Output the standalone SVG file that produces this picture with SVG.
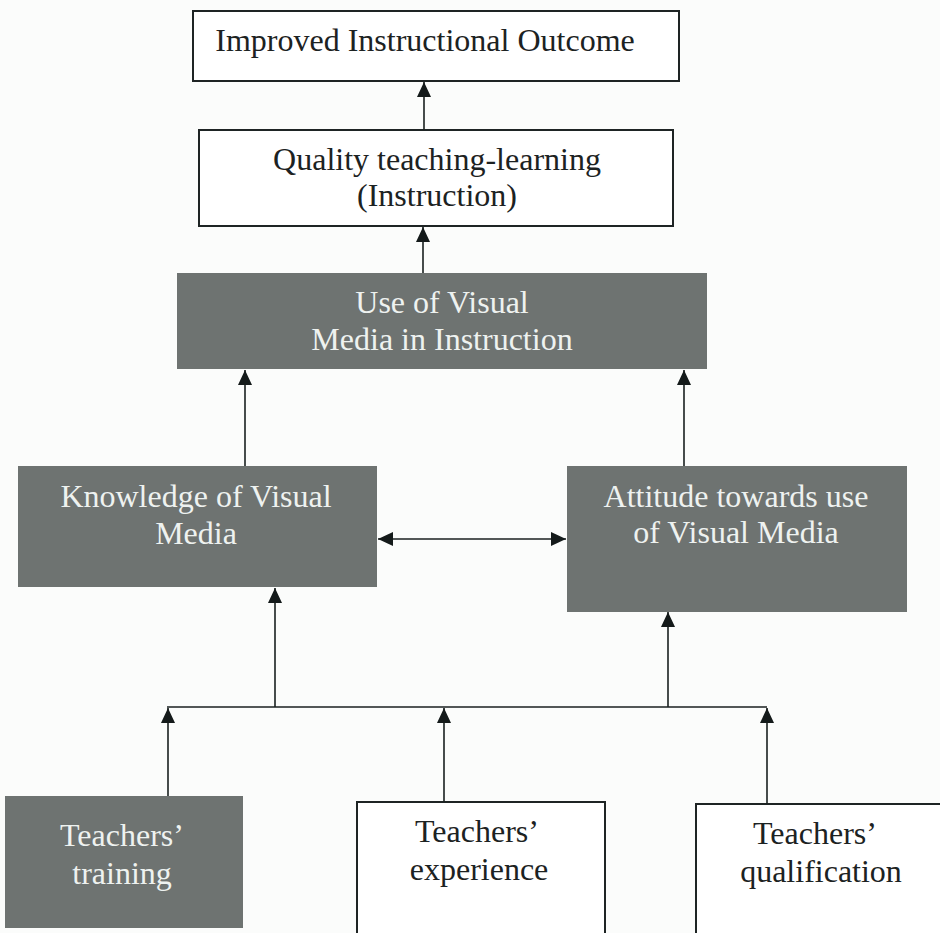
<svg xmlns="http://www.w3.org/2000/svg" width="940" height="933" viewBox="0 0 940 933">
  <defs>
    <marker id="ah" viewBox="0 0 15 14" markerUnits="userSpaceOnUse" markerWidth="15" markerHeight="14" refX="15" refY="7" orient="auto-start-reverse">
      <path d="M0,0 L15,7 L0,14 z" fill="#141a1a"/>
    </marker>
    <style>
      .wbox { fill: #ffffff; stroke: #1e2424; stroke-width: 2; }
      .gbox { fill: #6e7371; stroke: none; }
      .t { font-family: "Liberation Serif", "Times New Roman", serif; font-size: 32px; text-anchor: middle; }
      .dark { fill: #1c2222; }
      .light { fill: #eef2f0; }
      .conn line, .conn path { stroke: #1a2020; stroke-width: 1.6; fill: none; }
    </style>
  </defs>
  <rect width="940" height="933" fill="#fbfcfb"/>

  <g id="outcome">
    <rect class="wbox" x="193" y="11" width="486" height="70"/>
    <text class="t dark" x="425" y="51">Improved Instructional Outcome</text>
  </g>
  <g id="quality">
    <rect class="wbox" x="199" y="130" width="474" height="96"/>
    <text class="t dark" x="437" y="170">Quality teaching-learning</text>
    <text class="t dark" x="437" y="206">(Instruction)</text>
  </g>
  <g id="use">
    <rect class="gbox" x="177" y="273" width="530" height="96"/>
    <text class="t light" x="442" y="313">Use of Visual</text>
    <text class="t light" x="442" y="350">Media in Instruction</text>
  </g>
  <g id="knowledge">
    <rect class="gbox" x="18" y="466" width="359" height="121"/>
    <text class="t light" x="196" y="507">Knowledge of Visual</text>
    <text class="t light" x="196" y="544">Media</text>
  </g>
  <g id="attitude">
    <rect class="gbox" x="567" y="466" width="340" height="146"/>
    <text class="t light" x="736" y="507">Attitude towards use</text>
    <text class="t light" x="736" y="543">of Visual Media</text>
  </g>
  <g id="training">
    <rect class="gbox" x="5" y="796" width="238" height="132"/>
    <text class="t light" x="122" y="846">Teachers’</text>
    <text class="t light" x="122" y="884">training</text>
  </g>
  <g id="experience">
    <rect class="wbox" x="357" y="802" width="248" height="140"/>
    <text class="t dark" x="477" y="842">Teachers’</text>
    <text class="t dark" x="479" y="880">experience</text>
  </g>
  <g id="qualification">
    <rect class="wbox" x="696" y="804" width="260" height="140"/>
    <text class="t dark" x="815" y="844">Teachers’</text>
    <text class="t dark" x="821" y="882">qualification</text>
  </g>

  <g id="connectors" class="conn">
    <line x1="424" y1="130" x2="424" y2="82" marker-end="url(#ah)"/>
    <line x1="423" y1="273" x2="423" y2="227" marker-end="url(#ah)"/>
    <line x1="245" y1="466" x2="245" y2="370" marker-end="url(#ah)"/>
    <line x1="684" y1="466" x2="684" y2="370" marker-end="url(#ah)"/>
    <line x1="378" y1="539" x2="566" y2="539" marker-start="url(#ah)" marker-end="url(#ah)"/>
    <line x1="275" y1="707" x2="275" y2="588" marker-end="url(#ah)"/>
    <line x1="668" y1="707" x2="668" y2="612" marker-end="url(#ah)"/>
    <line x1="167" y1="707" x2="767" y2="707"/>
    <line x1="168" y1="796" x2="168" y2="708" marker-end="url(#ah)"/>
    <line x1="444" y1="802" x2="444" y2="708" marker-end="url(#ah)"/>
    <line x1="767" y1="804" x2="767" y2="708" marker-end="url(#ah)"/>
  </g>
</svg>
